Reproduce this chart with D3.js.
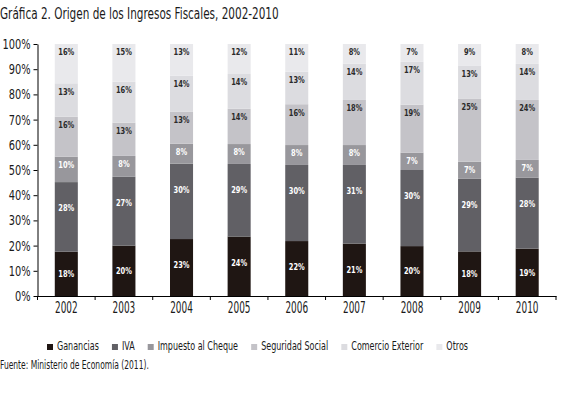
<!DOCTYPE html>
<html>
<head>
<meta charset="utf-8">
<script src="https://cdn.jsdelivr.net/npm/d3@7"></script>
<style>
  body { margin: 0; background: #fff; }
  text { font-family: "DejaVu Sans Condensed", "DejaVu Sans", sans-serif; fill: #1a1a1a; }
</style>
</head>
<body>
<div id="chart"></div>
<script>
// data (share of total, %)
var years = ["2002","2003","2004","2005","2006","2007","2008","2009","2010"];
var series = ["Ganancias","IVA","Impuesto al Cheque","Seguridad Social","Comercio Exterior","Otros"];
var ganancias  = [17.6, 20.0, 22.6, 23.6, 21.8, 20.8, 19.8, 17.7, 18.8];
var iva        = [27.6, 27.3, 29.9, 28.8, 30.2, 31.2, 30.2, 28.8, 28.1];
var cheque     = [10.1,  8.3,  7.9,  7.9,  7.9,  7.9,  6.9,  6.8,  7.1];
var seguridad  = [15.8, 13.2, 12.8, 14.0, 16.2, 17.9, 19.0, 24.9, 23.8];
var comercio   = [13.3, 16.2, 14.2, 13.8, 12.9, 14.4, 17.0, 13.3, 14.3];
var otros      = [15.6, 15.0, 12.6, 11.9, 11.0,  7.8,  7.1,  8.5,  7.9];
var yTicks = [0,0.1,0.2,0.3,0.4,0.5,0.6,0.7,0.8,0.9,1];

var colors = ["#1f1613","#616065","#98979c","#c4c3c8","#dcdce0","#e9e9ec"];
var labelFill = ["#fff","#fff","#fff","#2a2a2a","#2a2a2a","#2a2a2a"];

// squeeze text horizontally, the original uses a condensed face
function condense(sel, k){
  sel.each(function(){
    var w = this.getComputedTextLength();
    d3.select(this).attr("textLength", w * k).attr("lengthAdjust", "spacingAndGlyphs");
  });
}

function stacked_bars(size, node){
  var width = size[1], height = size[0];
  var margin = {top: 44, right: 7, bottom: 100, left: 37.5};

  var svg = node.append("svg")
    .attr("width", width)
    .attr("height", height);

  var cols = [ganancias, iva, cheque, seguridad, comercio, otros];
  var rows = years.map(function(yr, i){
    var r = {year: yr};
    series.forEach(function(s, j){ r[s] = cols[j][i]; });
    return r;
  });
  var stack = d3.stack().keys(series).offset(d3.stackOffsetExpand)(rows);

  var x = d3.scaleBand()
    .domain(years)
    .range([margin.left, width - margin.right])
    .paddingInner(0.6).paddingOuter(0.3);
  var y = d3.scaleLinear()
    .domain([0, 1])
    .range([height - margin.bottom, margin.top]);

  svg.append("text")
    .attr("x", 0).attr("y", 19)
    .style("font-size", "15px")
    .text("Gráfica 2. Origen de los Ingresos Fiscales, 2002-2010")
    .call(condense, 0.775);

  // bars
  var layer = svg.selectAll("g.layer").data(stack).enter().append("g")
    .attr("class", "layer")
    .attr("fill", function(d, i){ return colors[i]; });
  layer.selectAll("rect").data(function(d){ return d; }).enter().append("rect")
    .attr("x", function(d){ return x(d.data.year); })
    .attr("width", x.bandwidth())
    .attr("y", function(d){ return y(d[1]); })
    .attr("height", function(d){ return y(d[0]) - y(d[1]); });

  // value labels
  stack.forEach(function(s, i){
    var off = i < 2 ? 26 : 8;
    svg.append("g").selectAll("text").data(s).enter().append("text")
      .attr("x", function(d){ return x(d.data.year) + x.bandwidth() / 2; })
      .attr("y", function(d){
        var h = y(d[0]) - y(d[1]);
        return y(d[1]) + Math.min(h / 2, off);
      })
      .attr("dy", "0.35em")
      .attr("text-anchor", "middle")
      .style("font-size", "9.5px")
      .style("font-weight", "bold")
      .style("fill", labelFill[i])
      .text(function(d){ return Math.round(d.data[s.key]) + "%"; })
      .call(condense, 0.78);
  });

  // axes
  var yAxis = svg.append("g")
    .attr("transform", "translate(" + margin.left + ",0)")
    .call(d3.axisLeft(y).tickValues(yTicks).tickFormat(d3.format(".0%")).tickSize(4).tickSizeOuter(0).tickPadding(3));
  yAxis.selectAll("text").style("font-size", "14px").style("fill", "#1a1a1a").call(condense, 0.78);

  var xAxis = svg.append("g")
    .attr("transform", "translate(0," + (height - margin.bottom) + ")")
    .call(d3.axisBottom(x).tickSize(0).tickPadding(6.5));
  xAxis.selectAll("text").style("font-size", "15px").style("fill", "#1a1a1a").call(condense, 0.66);
  // ticks sit on the category boundaries
  var bounds = years.map(function(yr){ return x(yr) - x.step() * x.paddingInner() / 2; });
  bounds.push(x.range()[1]);
  bounds[0] = x.range()[0];
  xAxis.selectAll("line.edge").data(bounds).enter().append("line")
    .attr("class", "edge")
    .attr("x1", function(d){ return d; })
    .attr("x2", function(d){ return d; })
    .attr("y1", 0).attr("y2", 4)
    .attr("stroke", "#000");
  svg.selectAll(".domain").attr("stroke", "#000");
  svg.selectAll(".tick line").attr("stroke", "#000");

  // legend: spread over the same span as the original (x 47 to 468)
  var legLeft = 47, legRight = 468, gap = 13, sw = 10;
  var leg = svg.append("g").attr("transform", "translate(0,350)");
  var items = leg.selectAll("g").data(series).enter().append("g");
  items.append("rect").attr("width", 6).attr("height", 6).attr("y", -6)
    .attr("fill", function(d, i){ return colors[i]; });
  var labels = items.append("text").attr("x", 0).attr("y", 0)
    .style("font-size", "13px").text(function(d){ return d; });
  var natural = labels.nodes().map(function(n){ return n.getComputedTextLength(); });
  var k = (legRight - legLeft - series.length * sw - (series.length - 1) * gap) / d3.sum(natural);
  var cx = legLeft;
  items.each(function(d, i){
    d3.select(this).attr("transform", "translate(" + cx + ",0)")
      .select("text").attr("transform", "translate(" + sw + ",0) scale(" + k + ",1)");
    cx += sw + natural[i] * k + gap;
  });

  svg.append("text")
    .attr("x", 0).attr("y", 369)
    .style("font-size", "12px")
    .text("Fuente: Ministerio de Economía (2011).")
    .call(condense, 0.7);
}

stacked_bars([396, 563], d3.select("#chart"));
</script>
</body>
</html>
